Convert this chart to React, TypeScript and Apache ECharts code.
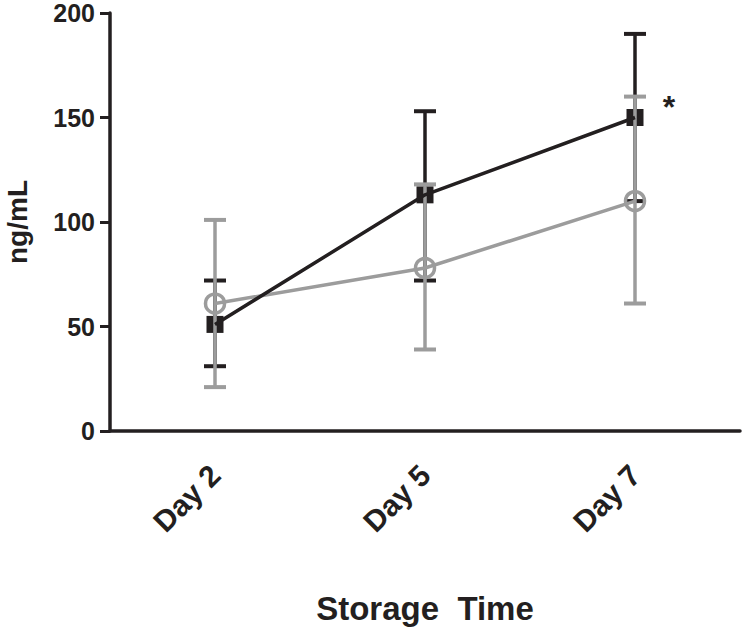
import React, { useEffect, useRef } from "react";
import * as echarts from "echarts";

const categories = ["Day 2", "Day 5", "Day 7"];
const blackMean = [51, 113, 150];
const blackLow = [31, 72, 110];
const blackHigh = [72, 153, 190];
const grayMean = [61, 78, 110];
const grayLow = [21, 39, 61];
const grayHigh = [101, 118, 160];
const yTicks = { min: 0, max: 200, interval: 50 };
const significance = [{ index: 2, value: 150, text: "*" }];

const BLACK = "#231f20";
const GRAY = "#9c9c9c";
const FONT = "'Liberation Sans', Arial, sans-serif";

function errorSeries(low: number[], high: number[], color: string, z: number) {
  return {
    type: "custom",
    z,
    data: low.map((l, i) => [i, l, high[i]]),
    encode: { x: 0, y: [1, 2] },
    renderItem: (params: any, api: any) => {
      const idx = api.value(0);
      const lo = api.coord([idx, api.value(1)]);
      const hi = api.coord([idx, api.value(2)]);
      const hw = 11;
      const style = { stroke: color, lineWidth: 3.5, fill: "none" };
      return {
        type: "group",
        children: [
          { type: "line", shape: { x1: lo[0], y1: lo[1], x2: hi[0], y2: hi[1] }, style },
          { type: "line", shape: { x1: hi[0] - hw, y1: hi[1], x2: hi[0] + hw, y2: hi[1] }, style: { ...style, lineWidth: 4 } },
          { type: "line", shape: { x1: lo[0] - hw, y1: lo[1], x2: lo[0] + hw, y2: lo[1] }, style: { ...style, lineWidth: 4 } },
        ],
      };
    },
  };
}

export default function App() {
  const ref = useRef<HTMLDivElement>(null);
  useEffect(() => {
    document.body.style.margin = "0";
    const chart = echarts.init(ref.current!, undefined, { renderer: "svg" });
    chart.setOption({
      animation: false,
      backgroundColor: "#ffffff",
      grid: { left: 110, right: 2, top: 13, bottom: 198, containLabel: false, outerBoundsMode: "none" },
      xAxis: {
        type: "category",
        data: categories,
        boundaryGap: true,
        axisLine: { lineStyle: { color: BLACK, width: 3.5 } },
        axisTick: { alignWithLabel: true, length: 10, lineStyle: { color: BLACK, width: 3 } },
        axisLabel: {
          rotate: 45,
          margin: 39,
          color: BLACK,
          fontSize: 30,
          fontWeight: "bold",
          fontFamily: FONT,
        },
        name: "Storage  Time",
        nameLocation: "middle",
        nameGap: 161,
        nameTextStyle: { color: BLACK, fontSize: 33, fontWeight: "bold", fontFamily: FONT },
      },
      yAxis: {
        type: "value",
        min: yTicks.min,
        max: yTicks.max,
        interval: yTicks.interval,
        splitLine: { show: false },
        axisLine: { show: true, lineStyle: { color: BLACK, width: 3.5 } },
        axisTick: { show: true, length: 10, lineStyle: { color: BLACK, width: 3 } },
        axisLabel: {
          color: BLACK,
          fontSize: 25,
          lineHeight: 25,
          fontWeight: "bold",
          fontFamily: FONT,
          margin: 15,
        },
        name: "ng/mL",
        nameLocation: "middle",
        nameRotate: 90,
        nameGap: 79,
        nameTextStyle: { color: BLACK, fontSize: 28, lineHeight: 28, fontWeight: "bold", fontFamily: FONT },
      },
      series: [
        errorSeries(blackLow, blackHigh, BLACK, 1),
        {
          type: "scatter",
          z: 2,
          data: blackMean,
          symbol: "rect",
          symbolSize: [17, 17],
          itemStyle: { color: BLACK, opacity: 1 },
        },
        errorSeries(grayLow, grayHigh, GRAY, 3),
        {
          type: "line",
          z: 4,
          data: grayMean,
          symbol: "circle",
          symbolSize: 19,
          showAllSymbol: true,
          lineStyle: { color: GRAY, width: 3.5 },
          itemStyle: { color: "rgba(255,255,255,0)", borderColor: GRAY, borderWidth: 3.5 },
        },
        {
          type: "line",
          z: 5,
          data: blackMean,
          showSymbol: false,
          symbol: "none",
          lineStyle: { color: BLACK, width: 3.5 },
          markPoint: {
            symbol: "circle",
            symbolSize: 0,
            data: significance.map((s) => ({ coord: [s.index, s.value], value: s.text })),
            label: {
              show: true,
              formatter: (p: any) => p.value,
              offset: [34, -11],
              color: BLACK,
              fontSize: 32,
              fontWeight: "bold",
              fontFamily: FONT,
            },
          },
        },
      ],
    });
    return () => chart.dispose();
  }, []);
  return <div ref={ref} style={{ width: 742, height: 629 }} />;
}
